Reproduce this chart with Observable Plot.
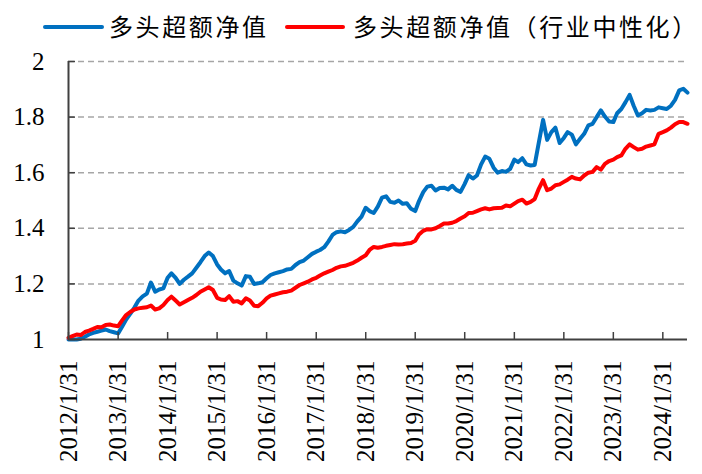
<!DOCTYPE html>
<html><head><meta charset="utf-8">
<script src="https://cdn.jsdelivr.net/npm/d3@7"></script>
<script src="https://cdn.jsdelivr.net/npm/@observablehq/plot@0.6"></script>
<style>
body{margin:0;background:#fff;width:702px;height:474px;overflow:hidden;}
#legend{position:relative;height:45px;font-family:"Noto Sans CJK SC";font-size:24px;color:#000;}
.sw{position:absolute;height:4px;border-radius:2px;top:25px;}
.lb{position:absolute;top:14px;line-height:24px;letter-spacing:2.6px;white-space:nowrap;}
#chart svg text{font-family:"Liberation Serif" !important;font-variant:normal !important;font-variant-numeric:normal !important;}
</style>
</head><body>
<div id="legend"></div>
<div id="chart"></div>
<script>
const seriesNames = ["多头超额净值", "多头超额净值（行业中性化）"];
const seriesColors = ["#0070C0", "#FF0000"];
const startMonthEnd = "2012/1/31";
const endMonthEnd = "2024/7/31";
const xTickLabels = ["2012/1/31","2013/1/31","2014/1/31","2015/1/31","2016/1/31","2017/1/31","2018/1/31","2019/1/31","2020/1/31","2021/1/31","2022/1/31","2023/1/31","2024/1/31"];
const yTicks = [1, 1.2, 1.4, 1.6, 1.8, 2];
const blueValues = [
1.000,1.000,1.000,1.003,1.010,1.018,1.024,1.028,1.032,1.036,
1.030,1.026,1.022,1.045,1.072,1.092,1.115,1.140,1.155,1.165,
1.205,1.172,1.180,1.184,1.222,1.238,1.222,1.200,1.215,1.226,
1.238,1.258,1.278,1.300,1.313,1.300,1.270,1.252,1.238,1.246,
1.212,1.202,1.194,1.228,1.226,1.200,1.202,1.206,1.220,1.232,
1.238,1.242,1.246,1.252,1.254,1.268,1.278,1.284,1.296,1.308,
1.316,1.322,1.332,1.352,1.376,1.386,1.389,1.386,1.394,1.405,
1.425,1.442,1.474,1.462,1.455,1.478,1.510,1.515,1.495,1.492,
1.500,1.488,1.490,1.470,1.462,1.498,1.530,1.550,1.553,1.536,
1.545,1.546,1.540,1.553,1.538,1.531,1.560,1.591,1.579,1.590,
1.630,1.658,1.650,1.618,1.600,1.606,1.603,1.614,1.647,1.638,
1.652,1.630,1.626,1.628,1.710,1.790,1.718,1.746,1.762,1.707,
1.725,1.746,1.737,1.702,1.722,1.740,1.770,1.776,1.800,1.824,
1.802,1.784,1.782,1.814,1.829,1.853,1.880,1.841,1.806,1.814,
1.826,1.824,1.826,1.835,1.832,1.829,1.841,1.862,1.896,1.902,
1.888];
const redValues = [
1.006,1.012,1.018,1.016,1.027,1.032,1.038,1.045,1.044,1.052,
1.054,1.050,1.048,1.068,1.088,1.099,1.108,1.112,1.114,1.116,
1.122,1.108,1.112,1.124,1.142,1.154,1.140,1.126,1.134,1.142,
1.150,1.160,1.172,1.180,1.188,1.178,1.150,1.144,1.142,1.156,
1.136,1.138,1.130,1.148,1.140,1.121,1.120,1.132,1.148,1.158,
1.162,1.166,1.170,1.172,1.176,1.186,1.196,1.202,1.208,1.216,
1.222,1.230,1.238,1.244,1.250,1.258,1.263,1.265,1.270,1.276,
1.284,1.294,1.303,1.322,1.333,1.330,1.333,1.337,1.340,1.343,
1.342,1.343,1.345,1.347,1.355,1.378,1.391,1.397,1.396,1.400,
1.408,1.417,1.417,1.420,1.426,1.435,1.443,1.455,1.456,1.462,
1.468,1.472,1.468,1.472,1.473,1.474,1.482,1.479,1.489,1.498,
1.503,1.489,1.495,1.505,1.543,1.573,1.537,1.543,1.555,1.558,
1.567,1.575,1.585,1.579,1.576,1.590,1.600,1.603,1.620,1.611,
1.632,1.642,1.647,1.656,1.662,1.686,1.702,1.692,1.683,1.686,
1.694,1.698,1.702,1.740,1.746,1.752,1.762,1.774,1.782,1.782,
1.776];

const parse = d3.utcParse("%Y/%m/%d");
const fmt = d3.utcFormat("%Y/%-m/%-d");
const start = parse(startMonthEnd), end = parse(endMonthEnd);
// month-end dates (categories)
const dates = d3.utcMonth.range(d3.utcDay.offset(start, 1), d3.utcDay.offset(end, 2)).map(d => d3.utcDay.offset(d, -1));
const blueData = dates.map((d, i) => ({date: d, value: blueValues[i]}));
const redData = dates.map((d, i) => ({date: d, value: redValues[i]}));
const xTicks = xTickLabels.map(parse);

// legend
const legend = document.getElementById("legend");
const legendPos = [{sw: 43, sww: 61, lb: 109}, {sw: 285, sww: 60, lb: 353}];
seriesNames.forEach((name, i) => {
  const s = document.createElement("div");
  s.className = "sw"; s.style.left = legendPos[i].sw + "px"; s.style.width = legendPos[i].sww + "px";
  s.style.background = seriesColors[i];
  legend.appendChild(s);
  const t = document.createElement("div");
  t.className = "lb"; t.style.left = legendPos[i].lb + "px"; t.textContent = name;
  legend.appendChild(t);
});

const serif = "Liberation Serif";
const W = 702, H = 429, mT = 16, mB = 135, mL = 68, mR = 15, tickLen = 7;
const chart = Plot.plot({
  width: W, height: H,
  marginTop: mT, marginBottom: mB, marginLeft: mL, marginRight: mR,
  style: {fontSize: "25px", color: "#000", background: "#fff", overflow: "visible"},
  x: {type: "utc", domain: [dates[0], dates[dates.length - 1]], label: null},
  y: {domain: [1, 2], label: null},
  marks: [
    Plot.gridY(yTicks.slice(1), {stroke: "#a6a6a6", strokeOpacity: 1, strokeDasharray: "6,4", strokeWidth: 1.5}),
    Plot.line(blueData, {x: "date", y: "value", stroke: seriesColors[0], strokeWidth: 4, strokeLinejoin: "round", strokeLinecap: "round"}),
    Plot.line(redData, {x: "date", y: "value", stroke: seriesColors[1], strokeWidth: 4, strokeLinejoin: "round", strokeLinecap: "round"}),
    Plot.tickY(yTicks, {y: d => d, stroke: "#404040", strokeWidth: 1.5, insetRight: W - mL - mR - tickLen}),
    Plot.tickX(xTicks, {x: d => d, stroke: "#404040", strokeWidth: 1.5, insetTop: H - mT - mB - tickLen}),
    Plot.axisY(yTicks, {label: null, tickSize: 0, tickPadding: 24, fill: "#000", fontSize: 25, fontFamily: serif, fontVariant: "normal", tickFormat: d => String(d)}),
    Plot.axisX(xTicks, {label: null, tickSize: 0, tickPadding: 21, tickRotate: -90, fill: "#000", fontSize: 25, fontFamily: serif, fontVariant: "normal", tickFormat: fmt}),
    Plot.ruleY([1], {stroke: "#404040", strokeWidth: 2}),
    Plot.ruleX([dates[0]], {stroke: "#404040", strokeWidth: 2})
  ]
});
chart.setAttribute("font-family", serif);
chart.style.fontFamily = serif;
d3.select(chart).selectAll("g, text").attr("font-family", serif).attr("font-variant", null).style("font-family", serif).style("font-variant", "normal");
document.getElementById("chart").appendChild(chart);
</script>
</body></html>
